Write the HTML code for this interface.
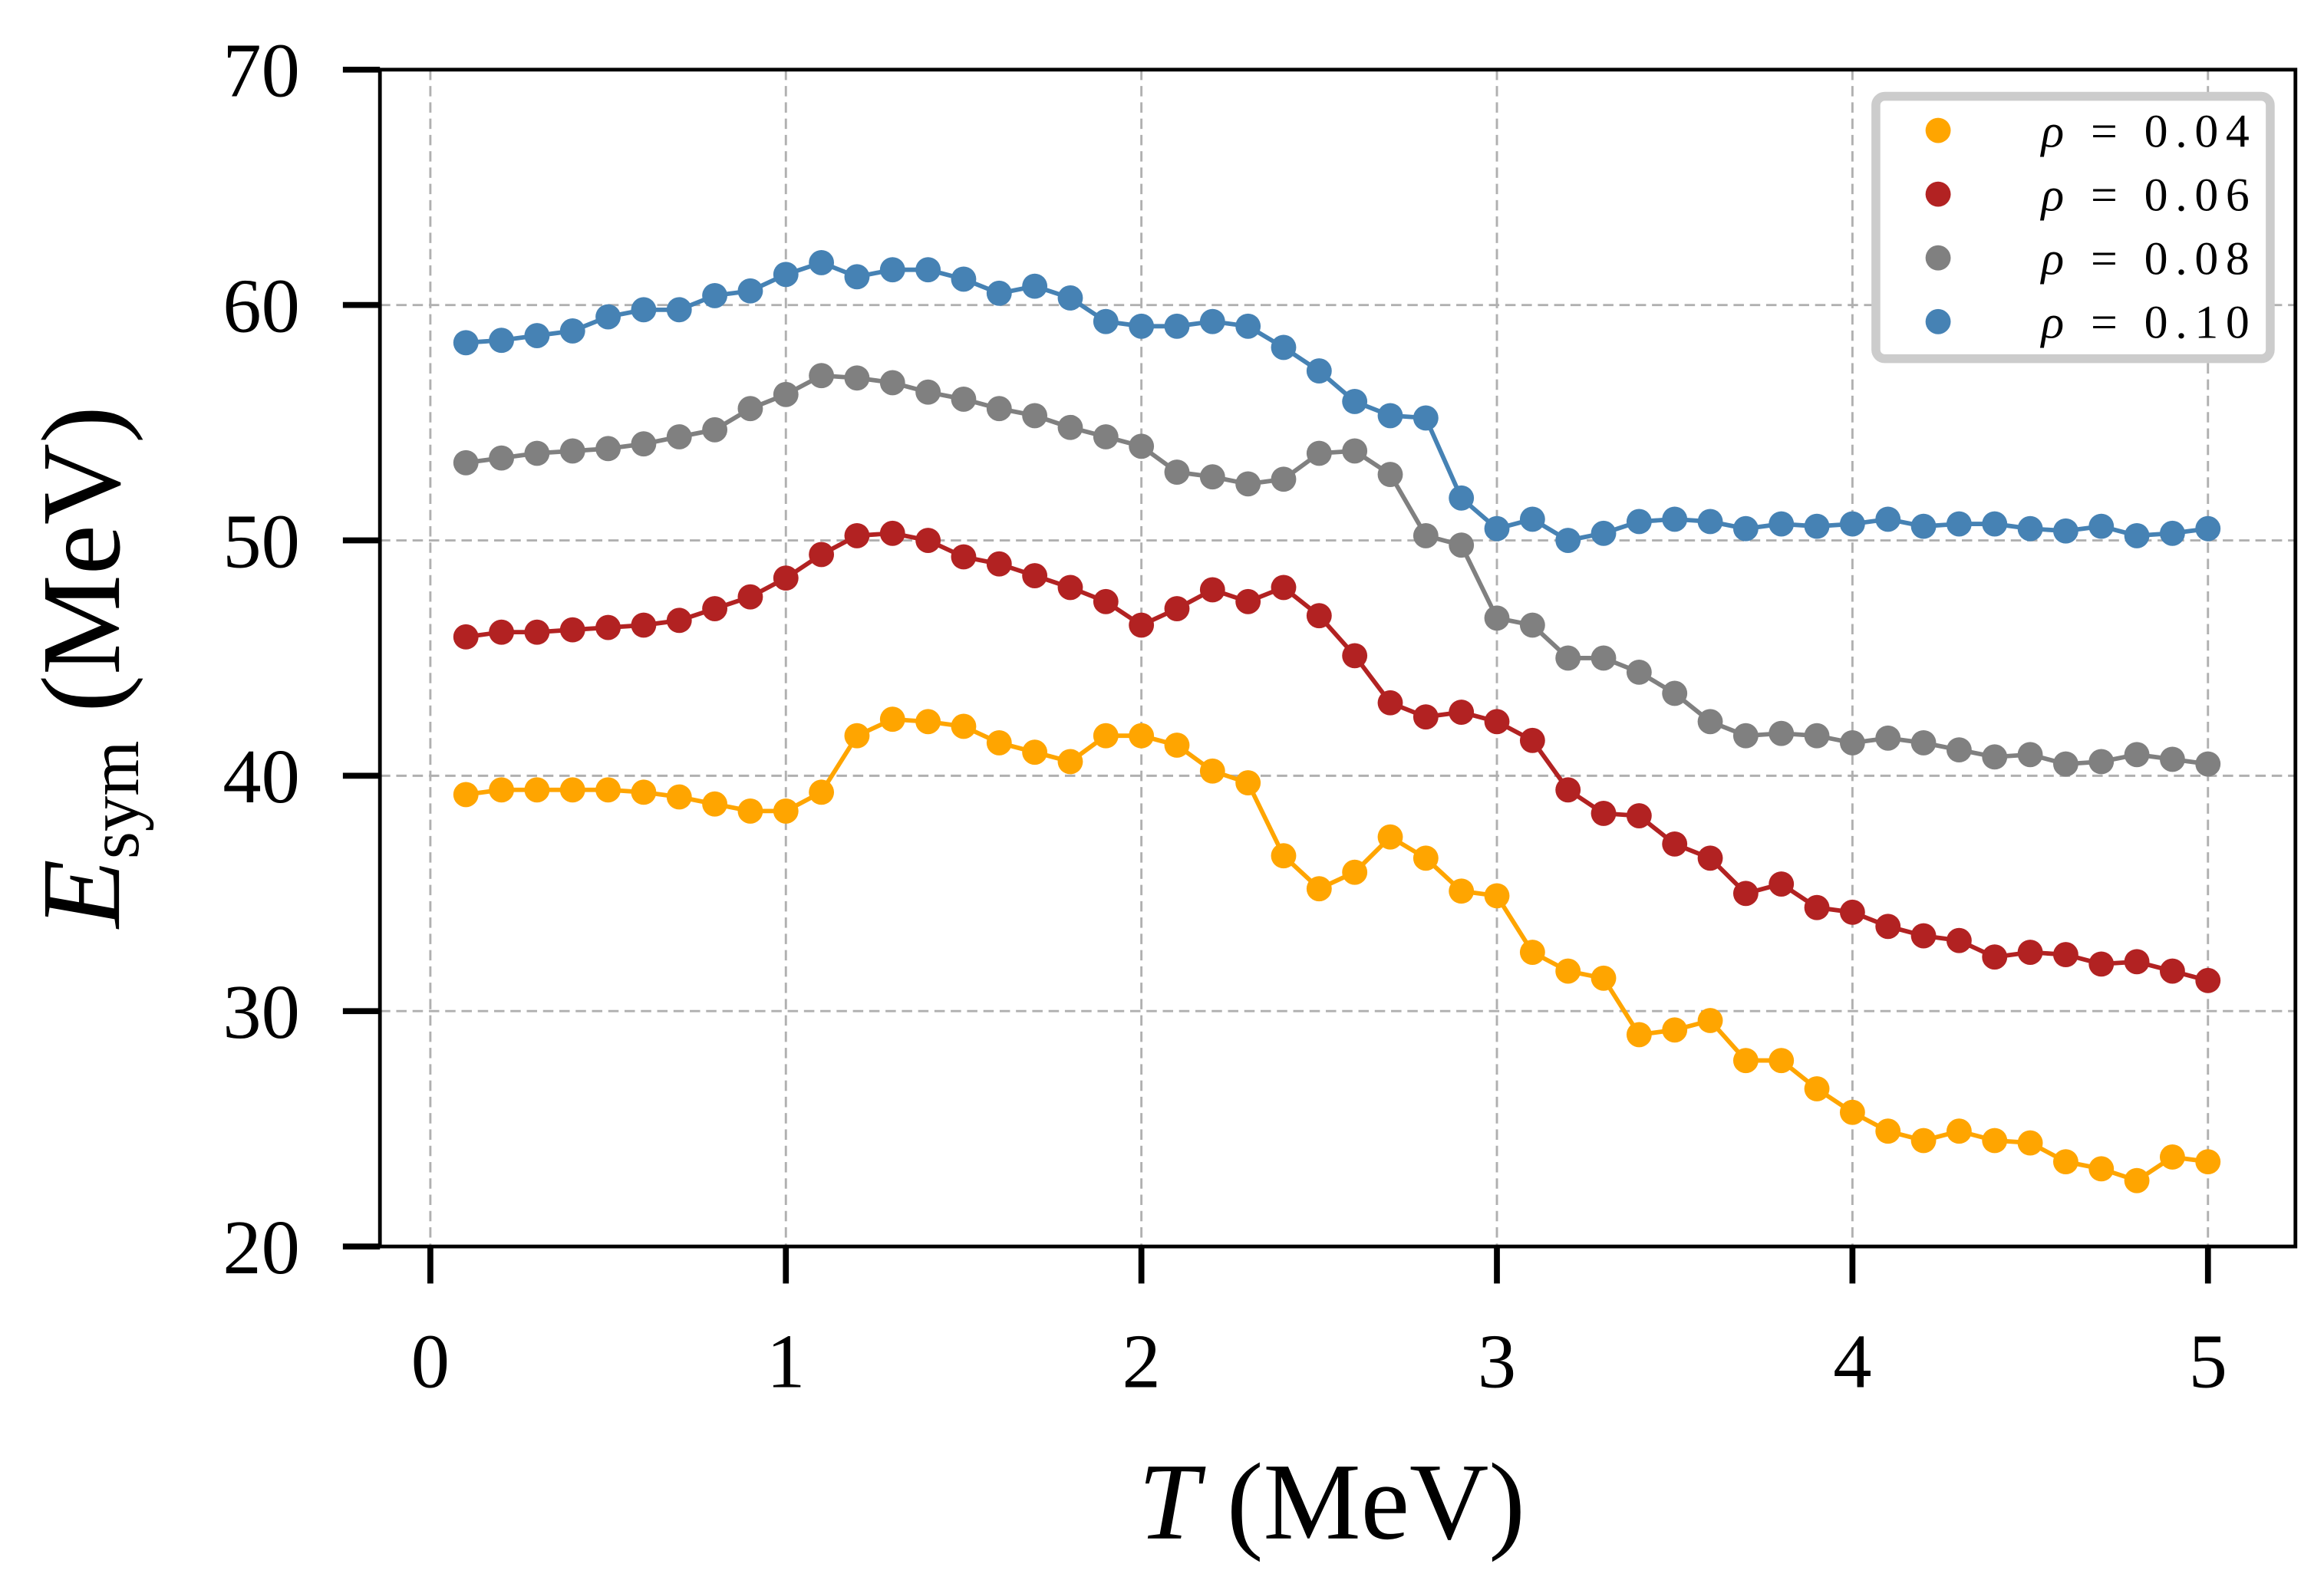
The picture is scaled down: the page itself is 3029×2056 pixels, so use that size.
<!DOCTYPE html>
<html><head><meta charset="utf-8"><style>
html,body{margin:0;padding:0;background:#fff}
svg{display:block}
text{font-family:"Liberation Serif",serif;fill:#000}
</style></head><body>
<svg id="chart" width="3029" height="2056" viewBox="0 0 1567 1064" xmlns="http://www.w3.org/2000/svg">
<g id="grid"></g>
<g id="series"></g>
<rect x="256" y="47" width="1292" height="794" fill="none" stroke="#000" stroke-width="2.5"/>
<g id="axes"></g>
<text x="898" y="1038" font-size="74" text-anchor="middle"><tspan font-style="italic">T</tspan> (MeV)</text>
<text transform="translate(80,450) rotate(-90)" font-size="76" text-anchor="middle"><tspan font-style="italic">E</tspan><tspan font-size="48" dy="13">sym</tspan><tspan dy="-13"> (MeV)</tspan></text>
<g id="legend">
<rect x="1265" y="65" width="266" height="177" rx="6" fill="#fff" stroke="#ccc" stroke-width="6"/>
</g>
</svg>
<script>
const temps = [];
for (let i = 1; i <= 50; i++) temps.push(i / 10);
const xTicks = [0, 1, 2, 3, 4, 5];
const yTicks = [20, 30, 40, 50, 60, 70];
const labels = ["ρ = 0.04", "ρ = 0.06", "ρ = 0.08", "ρ = 0.10"];
const colors = ["#FFA500", "#B22222", "#808080", "#4682B4"];
const rho004 = [39.2,39.4,39.4,39.4,39.4,39.3,39.1,38.8,38.5,38.5,39.3,41.7,42.4,42.3,42.1,41.4,41.0,40.6,41.7,41.7,41.3,40.2,39.7,36.6,35.2,35.9,37.4,36.5,35.1,34.9,32.5,31.7,31.4,29.0,29.2,29.6,27.9,27.9,26.7,25.7,24.9,24.5,24.9,24.5,24.4,23.6,23.3,22.8,23.8,23.6];
const rho006 = [45.9,46.1,46.1,46.2,46.3,46.4,46.6,47.1,47.6,48.4,49.4,50.2,50.3,50.0,49.3,49.0,48.5,48.0,47.4,46.4,47.1,47.9,47.4,48.0,46.8,45.1,43.1,42.5,42.7,42.3,41.5,39.4,38.4,38.3,37.1,36.5,35.0,35.4,34.4,34.2,33.6,33.2,33.0,32.3,32.5,32.4,32.0,32.1,31.7,31.3];
const rho008 = [53.3,53.5,53.7,53.8,53.9,54.1,54.4,54.7,55.6,56.2,57.0,56.9,56.7,56.3,56.0,55.6,55.3,54.8,54.4,54.0,52.9,52.7,52.4,52.6,53.7,53.8,52.8,50.2,49.8,46.7,46.4,45.0,45.0,44.4,43.5,42.3,41.7,41.8,41.7,41.4,41.6,41.4,41.1,40.8,40.9,40.5,40.6,40.9,40.7,40.5];
const rho010 = [58.4,58.5,58.7,58.9,59.5,59.8,59.8,60.4,60.6,61.3,61.8,61.2,61.5,61.5,61.1,60.5,60.8,60.3,59.3,59.1,59.1,59.3,59.1,58.2,57.2,55.9,55.3,55.2,51.8,50.5,50.9,50.0,50.3,50.8,50.9,50.8,50.5,50.7,50.6,50.7,50.9,50.6,50.7,50.7,50.5,50.4,50.6,50.2,50.3,50.5];
const allSeries = [rho004, rho006, rho008, rho010];

const NS = "http://www.w3.org/2000/svg";
const X0 = 290, XS = 239.8, YB = 841, YS = 15.88;
function xs(t){ return X0 + t * XS; }
function ys(v){ return YB - (v - 20) * YS; }
function mk(tag, attrs, parent){
  const e = document.createElementNS(NS, tag);
  for (const k in attrs) e.setAttribute(k, attrs[k]);
  parent.appendChild(e);
  return e;
}
const grid = document.getElementById('grid');
const axes = document.getElementById('axes');
xTicks.forEach(t => {
  const g = mk('line', {x1: xs(t), x2: xs(t), y1: 47, y2: 841, stroke: '#b0b0b0', 'stroke-width': 1.5, 'stroke-dasharray': '7,4'}, grid);
  
  
  const tk = mk('line', {x1: xs(t), x2: xs(t), y1: 841, y2: 866, stroke: '#000', 'stroke-width': 4}, axes);
  
  
  const lb = mk('text', {x: xs(t), y: 936, 'font-size': 52, 'text-anchor': 'middle'}, axes);
  
  
  lb.textContent = t;
});
yTicks.forEach(v => {
  if (v > 20 && v < 70) {
    const g = mk('line', {x1: 256, x2: 1548, y1: ys(v), y2: ys(v), stroke: '#b0b0b0', 'stroke-width': 1.5, 'stroke-dasharray': '7,4'}, grid);
    
    
  }
  const tk = mk('line', {x1: 231, x2: 256, y1: ys(v), y2: ys(v), stroke: '#000', 'stroke-width': 4}, axes);
  
  
  const lb = mk('text', {x: 202, y: ys(v) + 18, 'font-size': 52, 'text-anchor': 'end'}, axes);
  
  
  lb.textContent = v;
});
const sg = document.getElementById('series');
allSeries.forEach((vals, si) => {
  const g = mk('g', {}, sg);
  
  
  const pts = vals.map((v, i) => xs(temps[i]).toFixed(1) + ',' + ys(v).toFixed(1)).join(' ');
  const pl = mk('polyline', {points: pts, fill: 'none', stroke: colors[si], 'stroke-width': 3}, g);
  
  
  vals.forEach((v, i) => {
    const c = mk('circle', {cx: xs(temps[i]), cy: ys(v), r: 8.5, fill: colors[si]}, g);
    
    
  });
});
const lg = document.getElementById('legend');
labels.forEach((l, i) => {
  const y = 88 + i * 43;
  const c = mk('circle', {cx: 1307, cy: y, r: 8.5, fill: colors[i]}, lg);
  
  
  const t = mk('text', {x: 1522, y: y + 11, 'font-size': 32, 'text-anchor': 'end', 'letter-spacing': '5'}, lg);
  
  
  t.innerHTML = '<tspan font-style="italic">ρ</tspan> = ' + l.split('= ')[1];
});
</script>
</body></html>
